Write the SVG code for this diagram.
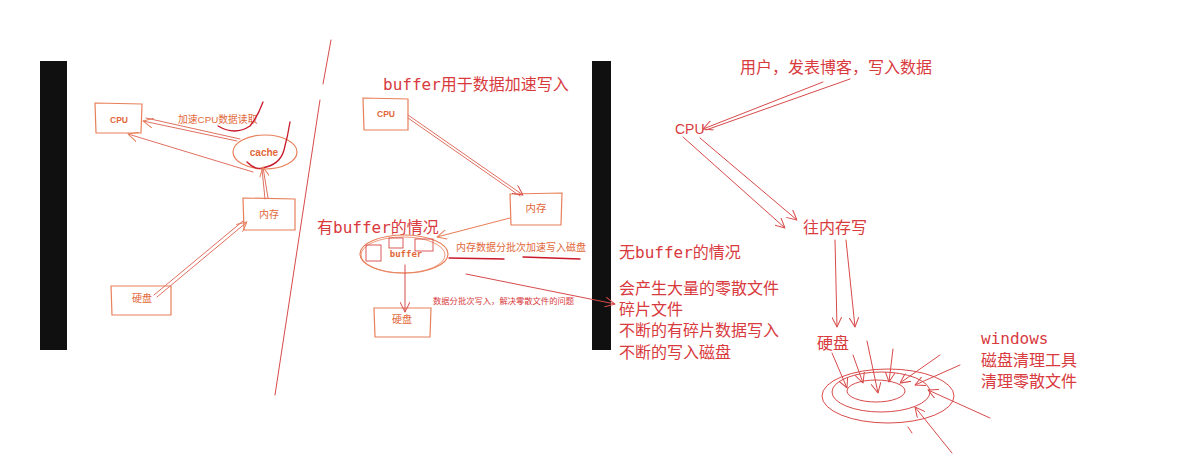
<svg xmlns="http://www.w3.org/2000/svg" width="1191" height="472" viewBox="0 0 1191 472">
<style>
.bar{fill:#101010}
.box{fill:none;stroke:#e8805a;stroke-width:1.2}
.or{fill:#e2683a;font-family:"Liberation Sans","Noto Sans CJK SC",sans-serif}
.orb{fill:#e2683a;font-family:"Liberation Sans","Noto Sans CJK SC",sans-serif;font-weight:bold}
.rd{fill:#d83a3e;font-family:"Liberation Sans","Noto Sans CJK SC",sans-serif}
.mono{font-family:"DejaVu Sans Mono","Liberation Mono","Noto Sans CJK SC",monospace}
.ln{fill:none;stroke:#e07060;stroke-width:1;stroke-linecap:round}
.lo{fill:none;stroke:#e8805a;stroke-width:1.1;stroke-linecap:round}
.lr{fill:none;stroke:#d84a4a;stroke-width:1;stroke-linecap:round}
.dk{fill:none;stroke:#c8182a;stroke-width:1.3;stroke-linecap:round}
</style>
<defs>
<marker id="ah" viewBox="0 0 10 10" refX="10" refY="5" markerWidth="10" markerHeight="10" markerUnits="userSpaceOnUse" orient="auto">
<path d="M0,0 L10,5 L0,10" fill="none" stroke="#d84a4a" stroke-width="1"/>
</marker>
<marker id="aho" viewBox="0 0 10 10" refX="10" refY="5" markerWidth="10" markerHeight="10" markerUnits="userSpaceOnUse" orient="auto">
<path d="M0,0 L10,5 L0,10" fill="none" stroke="#e8805a" stroke-width="1"/>
</marker>
</defs>
<rect width="1191" height="472" fill="#ffffff"/>

<!-- bars and divider -->
<rect class="bar" x="40" y="61" width="27" height="289"/>
<rect class="bar" x="592" y="61" width="19" height="289"/>
<path class="lr" d="M331,40 L323,84 M320,100 L275,395"/>

<!-- LEFT SECTION -->
<g id="l-cpu">
<path class="box" d="M95,103 L142,104 L141,133 L96,133 Z"/>
<text class="orb" x="119" y="123" font-size="8.5" text-anchor="middle">CPU</text>
</g>
<g id="l-cache">
<ellipse cx="265" cy="152" rx="32" ry="17" fill="none" stroke="#e8805a" stroke-width="1.2"/>
<text class="orb" x="264" y="156" font-size="10" text-anchor="middle">cache</text>
</g>
<g id="l-mem">
<path class="box" d="M243,198 L295,199 L295,230 L244,230 Z"/>
<text class="or" x="269" y="218" font-size="10" text-anchor="middle">内存</text>
</g>
<g id="l-disk">
<path class="box" d="M111,286 L171,286 L171,315 L112,315 Z"/>
<text class="or" x="142" y="302" font-size="10" text-anchor="middle">硬盘</text>
</g>
<text class="or" x="178" y="123" font-size="9.8">加速CPU数据读取</text>
<path class="dk" d="M218,126 Q235,136 250,126 Q258,116 263,102"/>
<path class="dk" d="M247,162 Q255,170 262,168 Q280,165 284,150 Q288,135 290,122"/>

<g id="l-connectors">
<path class="ln" d="M237,141 L143,121" marker-end="url(#aho)"/>
<path class="ln" d="M240,139 L146,118"/>
<path class="ln" d="M253,172 L128,134" marker-end="url(#aho)"/>
<path class="ln" d="M268,198 L263,167" marker-end="url(#aho)"/>
<path class="ln" d="M265,199 L262,169"/>
<path class="ln" d="M157,297 L247,222" marker-end="url(#aho)"/>
<path class="ln" d="M154,295 L243,221"/>
</g>

<!-- MIDDLE SECTION -->
<text class="rd" x="383" y="90" font-size="16"><tspan class="mono">buffer</tspan>用于数据加速写入</text>
<g id="m-cpu">
<path class="box" d="M363,98 L408,99 L408,130 L364,130 Z"/>
<text class="orb" x="386" y="117" font-size="8.5" text-anchor="middle">CPU</text>
</g>
<g id="m-mem">
<path class="box" d="M510,194 L562,193 L561,225 L511,225 Z"/>
<text class="or" x="536" y="212" font-size="10.5" text-anchor="middle">内存</text>
</g>
<text class="rd" x="317" y="233" font-size="16">有<tspan class="mono">buffer</tspan>的情况</text>
<g id="m-buffer">
<ellipse cx="404" cy="254" rx="44" ry="19" fill="none" stroke="#e8805a" stroke-width="1.2"/>
<ellipse cx="403" cy="255" rx="42" ry="18" fill="none" stroke="#e8805a" stroke-width="0.8"/>
<rect x="366" y="245" width="15" height="16" fill="none" stroke="#d84a4a" stroke-width="0.9"/>
<rect x="389" y="238" width="14" height="10" fill="none" stroke="#d84a4a" stroke-width="0.9"/>
<rect x="415" y="239" width="18" height="12" fill="none" stroke="#d84a4a" stroke-width="0.9"/>
<text class="orb mono" x="406" y="257" font-size="9" text-anchor="middle">buffer</text>
</g>
<g id="m-disk">
<path class="box" d="M374,308 L431,308 L430,337 L375,337 Z"/>
<text class="or" x="402" y="323" font-size="10" text-anchor="middle">硬盘</text>
</g>
<text class="or" x="456" y="251" font-size="10">内存数据分批次加速写入磁盘</text>
<path class="dk" d="M449,258 L504,259 M523,257 L580,259" stroke-width="1"/>
<text class="rd" x="433" y="304" font-size="8.3">数据分批次写入，解决零散文件的问题</text>

<g id="m-connectors">
<path class="ln" d="M408,115 L523,195" marker-end="url(#ah)"/>
<path class="ln" d="M408,118 L520,196"/>
<path class="lo" d="M510,218 L437,237" marker-end="url(#aho)"/>
<path class="lr" d="M405,265 L405,312" marker-end="url(#ah)"/>
<path class="lr" d="M466,274 L615,304" marker-end="url(#ah)"/>
</g>

<!-- RIGHT SECTION -->
<text class="rd" x="740" y="73" font-size="16">用户，发表博客，写入数据</text>
<text class="rd" x="675" y="134" font-size="14">CPU</text>
<text class="rd" x="803" y="233" font-size="16">往内存写</text>
<text class="rd" x="817" y="349" font-size="16">硬盘</text>
<text class="rd" x="619" y="258" font-size="16">无<tspan class="mono">buffer</tspan>的情况</text>
<text class="rd" font-size="16"><tspan x="619" y="294">会产生大量的零散文件</tspan><tspan x="619" y="315">碎片文件</tspan><tspan x="619" y="336">不断的有碎片数据写入</tspan><tspan x="619" y="358">不断的写入磁盘</tspan></text>
<text class="rd" font-size="16"><tspan class="mono" x="981" y="344">windows</tspan><tspan x="981" y="366">磁盘清理工具</tspan><tspan x="981" y="387">清理零散文件</tspan></text>

<g id="r-disk">
<ellipse cx="888" cy="396" rx="66" ry="27" fill="none" stroke="#d84a4a" stroke-width="1"/>
<ellipse cx="881" cy="392" rx="49" ry="20" fill="none" stroke="#d84a4a" stroke-width="1"/>
<ellipse cx="876" cy="391" rx="29" ry="11" fill="none" stroke="#d84a4a" stroke-width="1"/>
</g>

<g id="r-connectors">
<path class="lr" d="M823,82 L703,129" marker-end="url(#ah)"/>
<path class="lr" d="M850,79 L706,130"/>
<path class="lr" d="M683,137 L785,228" marker-end="url(#ah)"/>
<path class="lr" d="M700,138 L797,220" marker-end="url(#ah)"/>
<path class="lr" d="M835,240 L837,327" marker-end="url(#ah)"/>
<path class="lr" d="M846,240 L855,327" marker-end="url(#ah)"/>
<path class="lr" d="M832,353 L847,388" marker-end="url(#ah)"/>
<path class="lr" d="M853,355 L863,383" marker-end="url(#ah)"/>
<path class="lr" d="M867,341 L878,393" marker-end="url(#ah)"/>
<path class="lr" d="M893,349 L889,382" marker-end="url(#ah)"/>
<path class="lr" d="M940,355 L900,383" marker-end="url(#ah)"/>
<path class="lr" d="M960,365 L915,385" marker-end="url(#ah)"/>
<path class="lr" d="M990,418 L928,390" marker-end="url(#ah)"/>
<path class="lr" d="M952,453 L915,407" marker-end="url(#ah)"/>
<path class="lr" d="M912,433 L908,427"/>
</g>
</svg>
